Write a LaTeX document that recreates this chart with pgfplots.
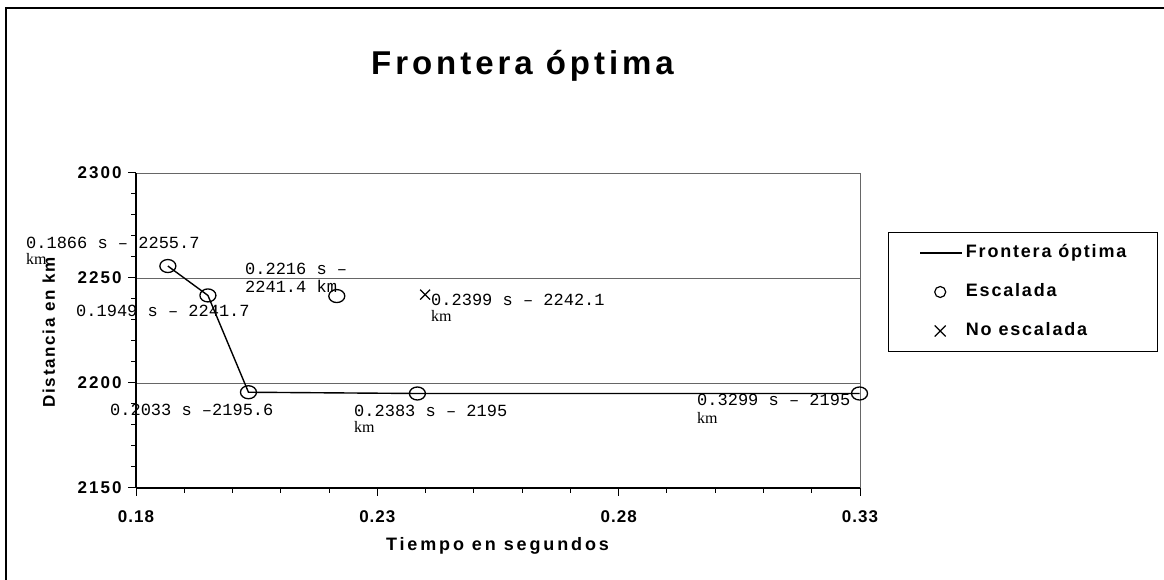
\documentclass[border=0pt]{standalone}
\usepackage{fontspec}
\setmainfont{Liberation Sans}
\newfontfamily\spacedfont{Liberation Sans}[LetterSpace=10]
\newfontfamily\titlefont{Liberation Sans}[LetterSpace=12]
\newfontfamily\xlabfont{Liberation Sans}[LetterSpace=16]
\newfontfamily\ytickfont{Liberation Sans}[LetterSpace=12]
\newfontfamily\xtickfont{Liberation Sans}[LetterSpace=6]
\newfontfamily\labmono{Liberation Mono}
\newfontfamily\labserif{Liberation Serif}
\usepackage{pgfplots}
\pgfplotsset{compat=1.18}
\newcommand{\fs}[1]{\fontsize{#1}{#1}\selectfont}
\begin{document}
\begin{tikzpicture}[x=1pt,y=1pt]
\useasboundingbox (0,0) rectangle (1164,580);
\draw[line width=2pt] (6,0) -- (6,572) -- (1164,572);
\node[anchor=base, inner sep=0pt, font=\titlefont\bfseries\fs{33}] at (522.5,505) {Frontera óptima};
\begin{axis}[
  at={(136pt,92pt)}, anchor=south west,
  scale only axis, width=724pt, height=315pt,
  xmin=0.18, xmax=0.33, ymin=2150, ymax=2300,
  clip=false,
  axis x line*=bottom, axis y line*=left,
  axis line style={black, line width=1.2pt, -},
  xtick={0.18,0.23,0.28,0.33}, xticklabels={0.18,0.23,0.28,0.33},
  ytick={2150,2200,2250,2300}, yticklabels={2150,2200,2250,2300},
  minor x tick num=4, minor y tick num=4,
  tick align=outside, major tick length=8pt, minor tick length=5pt,
  tick style={black, line width=1pt},
  ymajorgrids, major grid style={black!60, line width=0.9pt},
  xticklabel style={font=\xtickfont\bfseries\fs{17}, yshift=-11pt},
  yticklabel style={font=\ytickfont\bfseries\fs{17}, xshift=-3pt},
  xlabel={Tiempo en segundos}, ylabel={Distancia en km},
  xlabel style={font=\xlabfont\bfseries\fs{18}, at={(rel axis cs:0.4993,-0.2)}, anchor=base, inner sep=0pt},
  ylabel style={font=\spacedfont\bfseries\fs{17}, at={(rel axis cs:-0.1119,0.4937)}, anchor=base, inner sep=0pt},
  legend style={at={(rel axis cs:1.0387,0.8127)}, anchor=north west, draw=black, line width=1pt, fill=white,
    inner xsep=31pt, inner ysep=12pt, row sep=22pt, column sep=3pt,
    font=\spacedfont\bfseries\fs{18},
    nodes={inner xsep=0pt, inner ysep=0pt, text height=13pt, text depth=4pt}},
  legend cell align=left,
]
\draw[black!60, line width=0.9pt] (rel axis cs:1,0) -- (rel axis cs:1,1);
\addplot[black, line width=1.4pt, no markers,
  legend image code/.code={\draw[black, line width=1.4pt] (0pt,0pt) -- (42pt,0pt);}]
  coordinates {(0.1866,2255.7) (0.1949,2241.7) (0.2033,2195.6) (0.2383,2195) (0.3299,2195)};
\addlegendentry{Frontera óptima}
\addplot[only marks, mark=o, mark size=6.5pt, mark options={black, line width=1.3pt, xscale=1.23},
  legend image code/.code={\path[draw=none, fill=none] (0pt,0pt) -- (42pt,0pt); \draw[black, line width=1.2pt] (20pt,0pt) circle (5.5pt);}]
  coordinates {(0.1866,2255.7) (0.1949,2241.7) (0.2033,2195.6) (0.2216,2241.4) (0.2383,2195) (0.3299,2195)};
\addlegendentry{Escalada}
\addplot[only marks, mark=x, mark size=7pt, mark options={black, line width=1.3pt},
  legend image code/.code={\path[draw=none, fill=none] (0pt,0pt) -- (42pt,0pt); \draw[black, line width=1.2pt] (14.5pt,-5.5pt) -- (25.5pt,5.5pt) (14.5pt,5.5pt) -- (25.5pt,-5.5pt);}]
  coordinates {(0.2399,2242.1)};
\addlegendentry{No escalada}
\tikzset{lm/.style={anchor=base west, inner sep=0pt, font=\labmono\fs{17}},
         ls/.style={anchor=base west, inner sep=0pt, font=\labserif\fs{16}}}
\node[lm] at (axis cs:0.15721,2263.81) {0.1866 s – 2255.7};
\node[ls] at (axis cs:0.15721,2256.19) {km};
\node[lm] at (axis cs:0.16757,2231.43) {0.1949 s – 2241.7};
\node[lm] at (axis cs:0.20258,2251.43) {0.2216 s –};
\node[lm] at (axis cs:0.20258,2243.33) {2241.4 km};
\node[lm] at (axis cs:0.24112,2237.14) {0.2399 s – 2242.1};
\node[ls] at (axis cs:0.24112,2229.52) {km};
\node[lm] at (axis cs:0.17461,2184.29) {0.2033 s –2195.6};
\node[lm] at (axis cs:0.22517,2183.81) {0.2383 s – 2195};
\node[ls] at (axis cs:0.22517,2176.19) {km};
\node[lm] at (axis cs:0.29623,2189.05) {0.3299 s – 2195};
\node[ls] at (axis cs:0.29623,2180.95) {km};
\end{axis}
\end{tikzpicture}
\end{document}
